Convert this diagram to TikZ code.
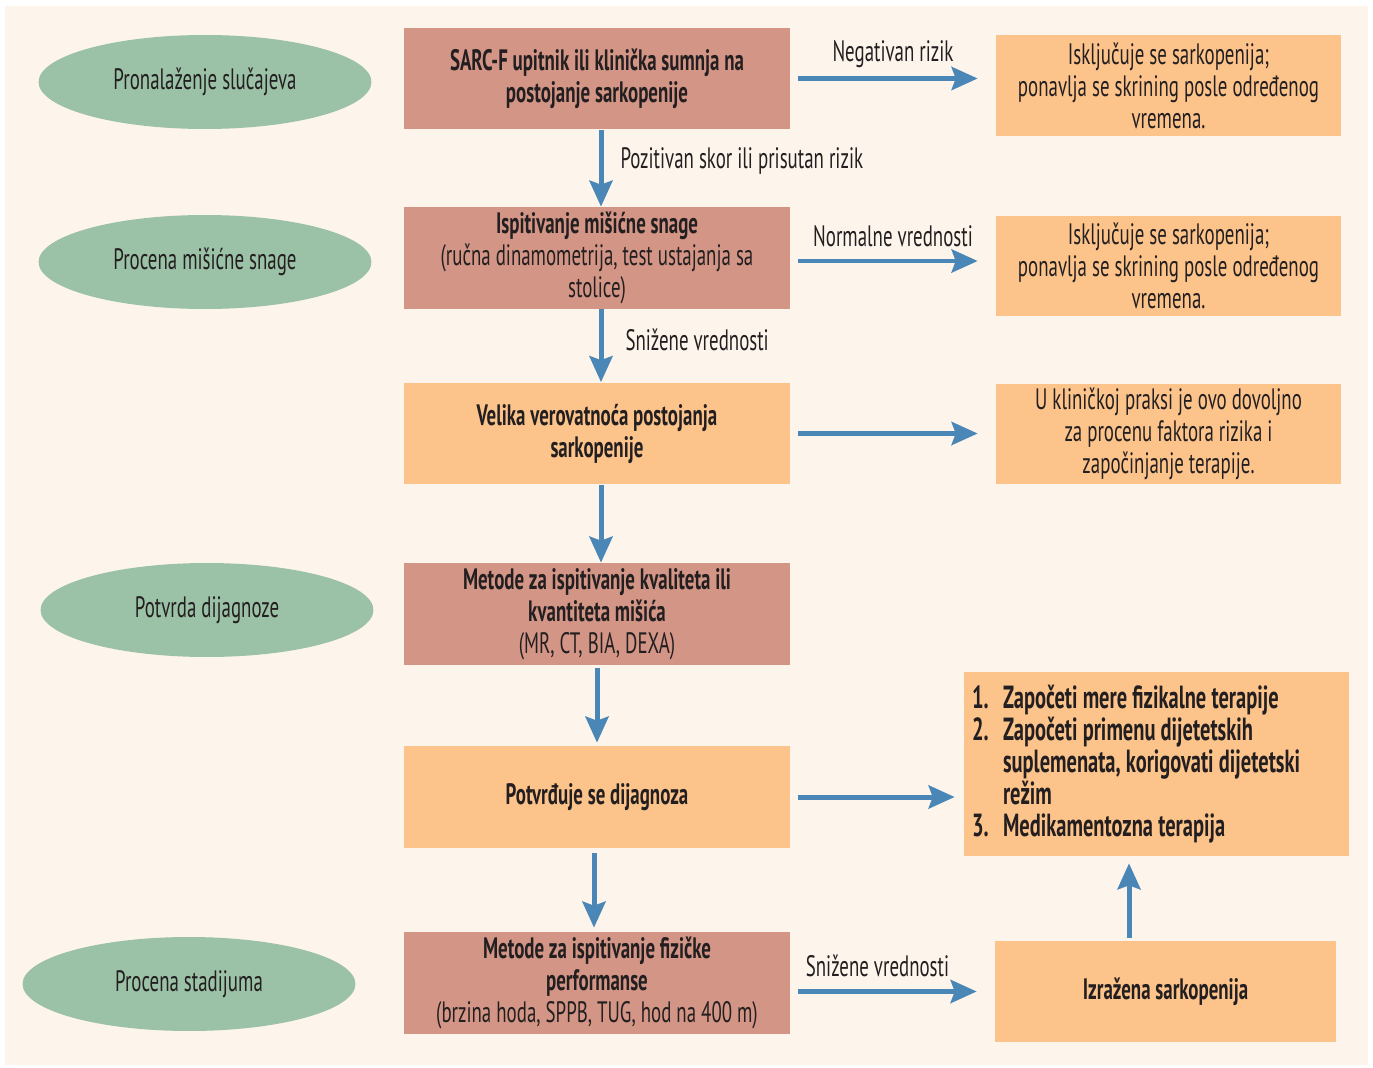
\documentclass[tikz,border=0pt]{standalone}
\usepackage{fontspec}
\setmainfont{PT Sans}[FakeStretch=0.64]
\usetikzlibrary{positioning,arrows.meta,shapes.geometric}

\definecolor{bgcream}{HTML}{FDF5EC}
\definecolor{ellgreen}{HTML}{9BC1A6}
\definecolor{rosebox}{HTML}{D39585}
\definecolor{orangebox}{HTML}{FCC38B}
\definecolor{arrowblue}{HTML}{4A87B6}
\definecolor{textdark}{HTML}{231F20}

\newcommand{\listnum}[1]{\makebox[0.62cm][l]{#1}}
\newcommand{\listcont}{\hspace*{0.62cm}}

\begin{document}
\begin{tikzpicture}[
    x=0.02cm, y=-0.02cm,
    font=\fontsize{16.8}{18.2}\selectfont,
    text=textdark,
    phase/.style={ellipse, fill=ellgreen, inner sep=0pt, minimum width=6.66cm, minimum height=1.88cm},
    testbox/.style={rectangle, fill=rosebox, inner sep=0pt, minimum width=7.72cm, minimum height=2.04cm, align=center},
    resultbox/.style={rectangle, fill=orangebox, inner sep=0pt, minimum width=7.72cm, minimum height=2.04cm, align=center},
    sidebox/.style={rectangle, fill=orangebox, inner sep=0pt, minimum width=6.9cm, minimum height=2.02cm, align=center},
    flow/.style={draw=arrowblue, line width=0.1cm, -{Stealth[length=0.52cm,width=0.46cm,inset=0.08cm]}},
    lbl/.style={inner sep=0pt}
]

% Background
\fill[white] (0,0) rectangle (1373,1068);
\useasboundingbox (0,0) rectangle (1373,1068);
\fill[bgcream] (5,6) rectangle (1368,1065);

% Phases
\node[phase] (e1) at (205,82) {Pronalaženje slučajeva};
\node[phase] (e2) at (205,262) {Procena mišićne snage};
\node[phase] (e3) at (207,610) {Potvrda dijagnoze};
\node[phase] (e4) at (189,984) {Procena stadijuma};

% Main column
\node[testbox] (b1) at (597,78.5) {\textbf{SARC-F upitnik  ili klinička sumnja na}\\\textbf{postojanje sarkopenije}};
\node[testbox] (b2) at (597,258) {\textbf{Ispitivanje mišićne snage}\\(ručna dinamometrija, test ustajanja sa\\stolice)};
\node[resultbox] (b3) at (597,433.5) {\textbf{Velika verovatnoća postojanja}\\\textbf{sarkopenije}};
\node[testbox] (b4) at (597,614) {\textbf{Metode za ispitivanje kvaliteta ili}\\\textbf{kvantiteta mišića}\\(MR, CT, BIA, DEXA)};
\node[resultbox] (b5) at (597,797) {\textbf{Potvrđuje se dijagnoza}};
\node[testbox] (b6) at (597,983) {\textbf{Metode za ispitivanje fizičke}\\\textbf{performanse}\\(brzina hoda, SPPB, TUG, hod na 400 m)};

% Right column
\node[sidebox] (r1) at (1168.5,85.5) {Isključuje se sarkopenija;\\ponavlja se skrining posle određenog\\vremena.};
\node[sidebox] (r2) at (1168.5,266) {Isključuje se sarkopenija;\\ponavlja se skrining posle određenog\\vremena.};
\node[sidebox] (r3) at (1168.5,434) {U kliničkoj praksi je ovo dovoljno\\za procenu faktora rizika i\\započinjanje terapije.};
\node[sidebox, minimum width=7.7cm, minimum height=3.68cm, inner xsep=0.16cm, text width=7.38cm, align=flush left, font=\fontsize{18.2}{18.2}\selectfont\bfseries] (r4) at (1156.5,764) {%
  \listnum{1.}Započeti mere fizikalne terapije\\
  \listnum{2.}Započeti primenu dijetetskih\\
  \listcont suplemenata, korigovati dijetetski\\
  \listcont režim\\
  \listnum{3.}Medikamentozna terapija};
\node[sidebox, minimum width=6.82cm] (r5) at (1165.5,991.5) {\textbf{Izražena sarkopenija}};

% Vertical arrows
\draw[flow] ([xshift=0.08cm]b1.south) -- node[lbl, pos=0.4, anchor=west, xshift=0.34cm] {Pozitivan skor ili prisutan rizik} ([xshift=0.08cm]b2.north);
\draw[flow] ([xshift=0.08cm]b2.south) -- node[lbl, pos=0.42, anchor=west, xshift=0.44cm] {Snižene vrednosti} ([xshift=0.08cm]b3.north);
\draw[flow] ([xshift=0.08cm]b3.south) -- ([xshift=0.08cm]b4.north);
\draw[flow, shorten <=0.06cm, shorten >=0.06cm] (b4.south) -- (b5.north);
\draw[flow, shorten <=0.1cm, shorten >=0.08cm] ([xshift=-0.06cm]b5.south) -- ([xshift=-0.06cm]b6.north);
\draw[flow, shorten <=0.06cm, shorten >=0.14cm] ([xshift=-0.73cm]r5.north) -- ([xshift=-0.73cm]r5.north |- r4.south);

% Horizontal arrows
\draw[flow, shorten <=0.16cm, shorten >=0.36cm] (b1.east) -- node[lbl, anchor=base, yshift=0.34cm] {Negativan rizik} (b1.east -| r1.west);
\draw[flow, shorten <=0.16cm, shorten >=0.36cm] ([yshift=-0.06cm]b2.east) -- node[lbl, anchor=base, yshift=0.3cm] {Normalne vrednosti} ([yshift=-0.06cm]b2.east -| r2.west);
\draw[flow, shorten <=0.16cm, shorten >=0.36cm] (b3.east) -- (b3.east -| r3.west);
\draw[flow, shorten <=0.16cm, shorten >=0.18cm] (b5.east) -- (b5.east -| r4.west);
\draw[flow, shorten <=0.16cm, shorten >=0.36cm] (b6.east |- r5.west) -- node[lbl, anchor=base, yshift=0.3cm, xshift=-0.3cm] {Snižene vrednosti} (r5.west);

\end{tikzpicture}
\end{document}
